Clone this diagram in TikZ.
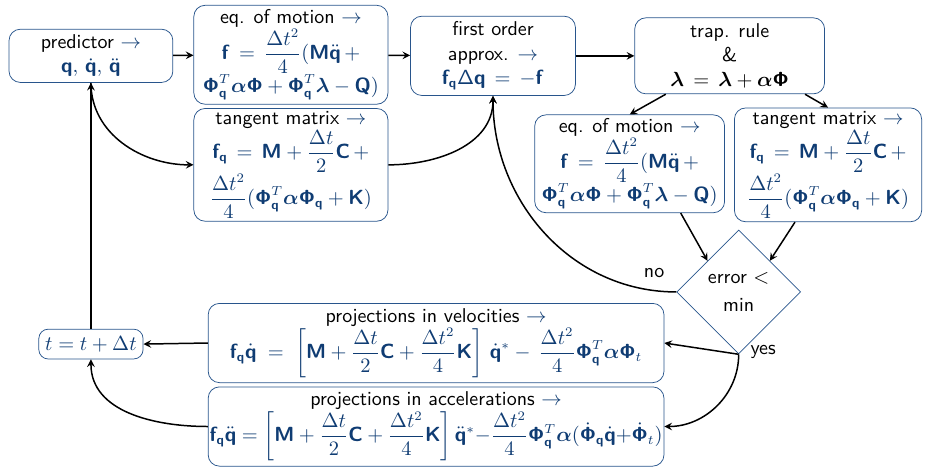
\documentclass[tikz,border=0pt]{standalone}
\usepackage{amsmath}
\usetikzlibrary{shapes.geometric}

\definecolor{mblue}{RGB}{15,60,115}
\definecolor{boxline}{RGB}{40,85,140}
\DeclareMathAlphabet{\mathbsf}{OT1}{cmss}{bx}{n}
\newcommand{\bv}[1]{\mathbsf{#1}}
\newcommand{\fq}{\bv{f}_{\bv{q}}}
\newcommand{\Pq}{\bv{\Phi}_{\bv{q}}^T}
\newcommand{\mb}[1]{\textcolor{mblue}{$\displaystyle #1$}}

\begin{document}
\begin{tikzpicture}[>=stealth, font=\sffamily\fontsize{10.7}{13}\selectfont, thick,
    box/.style={draw=boxline, thin, rounded corners=6pt, align=center, inner sep=0pt},
    decision/.style={diamond, draw=boxline, thin, align=center, inner sep=0pt, minimum width=2.33cm, minimum height=2.33cm}]

  \useasboundingbox (0,0) rectangle (17.6,8.78);

  % --- predictor and first iteration ---
  \node[box, minimum width=3.08cm, minimum height=1.0cm] (pred) at (1.71,7.73)
      {predictor \mb{\to}\\ \mb{\bv{q},\,\dot{\bv{q}},\,\ddot{\bv{q}}}};
  \node[box, minimum width=3.65cm, minimum height=1.86cm] (eqm) at (5.47,7.75)
      {eq. of motion \mb{\to}\\
       \mb{\bv{f} \,=\, \frac{\Delta t^2}{4}(\bv{M}\ddot{\bv{q}} \,+}\\
       \mb{\Pq\boldsymbol{\alpha}\bv{\Phi} + \Pq\boldsymbol{\lambda} - \bv{Q})}};
  \node[box, minimum width=3.65cm, minimum height=2.12cm] (tan) at (5.47,5.68)
      {tangent matrix \mb{\to}\\
       \mb{\fq \,=\, \bv{M} + \frac{\Delta t}{2}\bv{C} \,+}\\
       \mb{\frac{\Delta t^2}{4}(\Pq\boldsymbol{\alpha}\bv{\Phi}_{\bv{q}} + \bv{K})}};
  \node[box, minimum width=3.10cm, minimum height=1.49cm] (first) at (9.27,7.73)
      {first order\\ approx. \mb{\to}\\ \mb{\fq\mathsf{\Delta}\bv{q} \,=\, -\bv{f}}};

  % --- corrector ---
  \node[box, minimum width=3.57cm, minimum height=1.43cm] (trap) at (13.72,7.73)
      {trap. rule\\ \&\\ $\boldsymbol{\lambda} \,=\, \boldsymbol{\lambda} + \boldsymbol{\alpha}\bv{\Phi}$};
  \node[box, minimum width=3.57cm, minimum height=1.84cm] (eqmb) at (11.84,5.70)
      {eq. of motion \mb{\to}\\
       \mb{\bv{f} \,=\, \frac{\Delta t^2}{4}(\bv{M}\ddot{\bv{q}} \,+}\\
       \mb{\Pq\boldsymbol{\alpha}\bv{\Phi} + \Pq\boldsymbol{\lambda} - \bv{Q})}};
  \node[box, minimum width=3.52cm, minimum height=2.14cm] (tanb) at (15.57,5.68)
      {tangent matrix \mb{\to}\\
       \mb{\fq \,=\, \bv{M} + \frac{\Delta t}{2}\bv{C} \,+}\\
       \mb{\frac{\Delta t^2}{4}(\Pq\boldsymbol{\alpha}\bv{\Phi}_{\bv{q}} + \bv{K})}};
  \node[decision] (err) at (13.89,3.29) {error $<$\\[2pt] min};
  \node (no) at (12.30,3.65) {no};
  \node (yes) at (14.35,2.16) {yes};

  % --- projections and time step ---
  \node[box, minimum width=1.96cm, minimum height=0.56cm, rounded corners=5pt] (time) at (1.71,2.31)
      {\mb{t = t + \Delta t}};
  \node[box, minimum width=8.57cm, minimum height=1.49cm] (projv) at (8.20,2.33)
      {projections in velocities \mb{\to}\\
       \mb{\fq\dot{\bv{q}} \;=\; \left[\bv{M} + \frac{\Delta t}{2}\bv{C} + \frac{\Delta t^2}{4}\bv{K}\right]\,\dot{\bv{q}}^* -\, \frac{\Delta t^2}{4}\Pq\boldsymbol{\alpha}\bv{\Phi}_t}};
  \node[box, minimum width=8.57cm, minimum height=1.49cm] (proja) at (8.20,0.76)
      {projections in accelerations \mb{\to}\\
       \mb{\fq\ddot{\bv{q}} = \left[\bv{M} + \frac{\Delta t}{2}\bv{C} + \frac{\Delta t^2}{4}\bv{K}\right]\ddot{\bv{q}}^* {-} \frac{\Delta t^2}{4}\Pq\boldsymbol{\alpha}(\dot{\bv{\Phi}}_{\bv{q}}\dot{\bv{q}}{+}\dot{\bv{\Phi}}_t)}};

  % --- connectors ---
  \draw[->] (pred) -- (eqm);
  \draw[->] (eqm) -- (first);
  \draw[->] (first) -- (trap);
  \draw[->] (pred.south) to[out=-90, in=180] (tan.west);
  \draw[->] (tan.east) to[out=0, in=-90] (first.south);
  \draw[->] (trap.-149) -- (eqmb.north);
  \draw[->] (trap.-27) -- (tanb.north);
  \draw[->] (eqmb.-44) -- (err.north west);
  \draw[->] (tanb.-120) -- (err.north east);
  \draw[->] (err.west) to[out=180, in=-90] (first.south);
  \draw[->] (err.south) -- (projv.east);
  \draw[->] (err.south) to[out=-90, in=0] (proja.east);
  \draw[->] (projv.west) -- (time.east);
  \draw[->] (proja.west) to[out=180, in=-90] (time.south);
  \draw[->] (time.north) -- (pred.south);

\end{tikzpicture}
\end{document}
